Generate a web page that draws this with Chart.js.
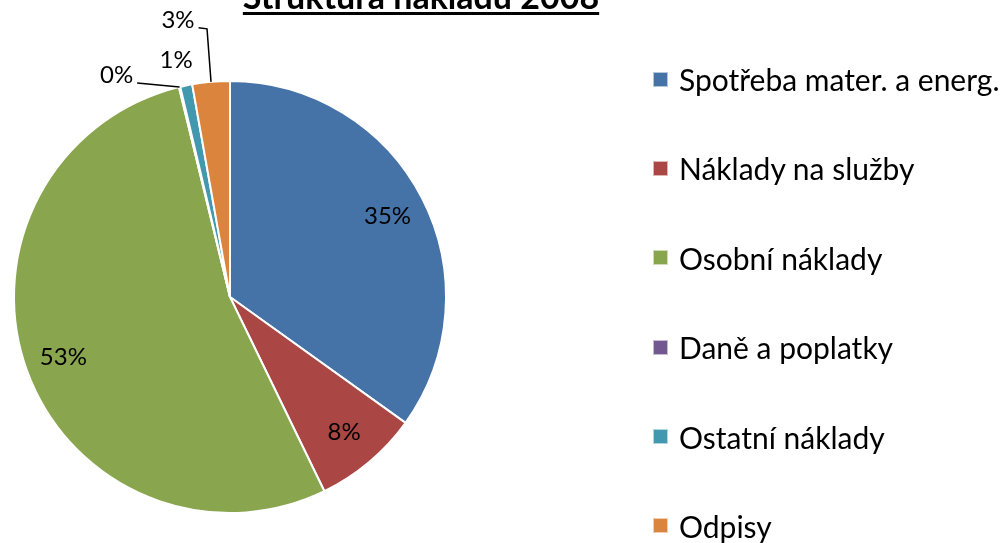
<!DOCTYPE html>
<html>
<head>
<meta charset="utf-8">
<script src="https://cdn.jsdelivr.net/npm/chart.js@4/dist/chart.umd.min.js"></script>
<style>
  html, body { margin: 0; padding: 0; background: #fff; }
  #wrap { position: relative; width: 1007px; height: 543px; overflow: hidden; font-family: Lato, "Open Sans", sans-serif; }
  #chart { position: absolute; left: 0; top: 0; }
  #title { position: absolute; left: 0; width: 842px; top: -25.5px; text-align: center; font-weight: bold; font-size: 34px;
           text-decoration: underline; text-decoration-thickness: 3px; text-underline-offset: 3px; color: #000; white-space: nowrap; }
  #legend { position: absolute; left: 653px; top: 64px; margin: 0; padding: 0; list-style: none; }
  #legend li { display: flex; align-items: center; height: 30px; margin-bottom: 59.4px; font-size: 30px; color: #000; white-space: nowrap; }
  #legend li span { display: inline-block; width: 15px; height: 15px; margin-right: 11px; box-sizing: border-box; border: 1px solid rgba(255,255,255,0.6); }
</style>
</head>
<body>
<div id="wrap">
  <canvas id="chart" width="1007" height="543"></canvas>
  <div id="title">Struktura nákladů 2008</div>
  <ul id="legend"></ul>
</div>
<script>
// 데이터
const categories = ['Spotřeba mater. a energ.', 'Náklady na služby', 'Osobní náklady', 'Daně a poplatky', 'Ostatní náklady', 'Odpisy'];
const shares = [34.9, 7.9, 53.4, 0.1, 0.9, 2.8];
const colors = ['#4572A7', '#AA4643', '#89A54E', '#71588F', '#4198AF', '#DB843D'];

// 퍼센트 라벨 그리기
const pieLabels = {
    id: 'pieLabels',
    afterDatasetsDraw(chart, args, opts) {
        const ctx = chart.ctx;
        const meta = chart.getDatasetMeta(0);
        const data = chart.data.datasets[0].data;
        const total = data.reduce((a, b) => a + b, 0);
        ctx.save();
        ctx.font = opts.font;
        ctx.fillStyle = '#000';
        ctx.strokeStyle = '#000';
        ctx.lineWidth = 1.5;
        ctx.textAlign = 'center';
        ctx.textBaseline = 'middle';
        meta.data.forEach((arc, i) => {
            const p = arc.getProps(['x', 'y', 'startAngle', 'endAngle', 'outerRadius'], true);
            const mid = (p.startAngle + p.endAngle) / 2;
            const txt = Math.round(data[i] / total * 100) + '%';
            const out = opts.outside[i];
            if (!out) {
                const r = p.outerRadius * opts.inside;
                ctx.fillText(txt, p.x + Math.cos(mid) * r, p.y + Math.sin(mid) * r);
                return;
            }
            const ex = p.x + Math.cos(mid) * p.outerRadius;
            const ey = p.y + Math.sin(mid) * p.outerRadius;
            const tx = ex + out.dx, ty = ey + out.dy;
            ctx.fillText(txt, tx, ty);
            if (out.line) {
                const w = ctx.measureText(txt).width;
                ctx.beginPath();
                ctx.moveTo(tx + w / 2 + 4, ty + 8);
                if (out.line === 'elbow') ctx.lineTo(ex - 4, ty + 9);
                ctx.lineTo(ex, ey);
                ctx.stroke();
            }
        });
        ctx.restore();
    }
};

const chart = new Chart(document.getElementById('chart'), {
    type: 'pie',
    data: {
        labels: categories,
        datasets: [{
            data: shares,
            backgroundColor: colors,
            borderColor: '#fff',
            borderWidth: 2
        }]
    },
    options: {
        responsive: false,
        animation: false,
        radius: 216,
        layout: { padding: { left: 14, right: 561, top: 81, bottom: 30 } },
        plugins: {
            legend: { display: false },
            title: { display: false },
            tooltip: { enabled: false },
            pieLabels: {
                font: '24px Lato',
                inside: 0.82,
                outside: {
                    3: { dx: -63, dy: -12, line: 'straight' },
                    4: { dx: -10, dy: -25 },
                    5: { dx: -33, dy: -62, line: 'elbow' }
                }
            }
        }
    },
    plugins: [pieLabels]
});

// 범례 (HTML)
const items = chart.options.plugins.legend.labels.generateLabels(chart);
let output = '';
items.forEach(item => {
    output += `<li><span style="background:${item.fillStyle}"></span>${item.text}</li>`;
});
document.getElementById('legend').innerHTML = output;
</script>
</body>
</html>
